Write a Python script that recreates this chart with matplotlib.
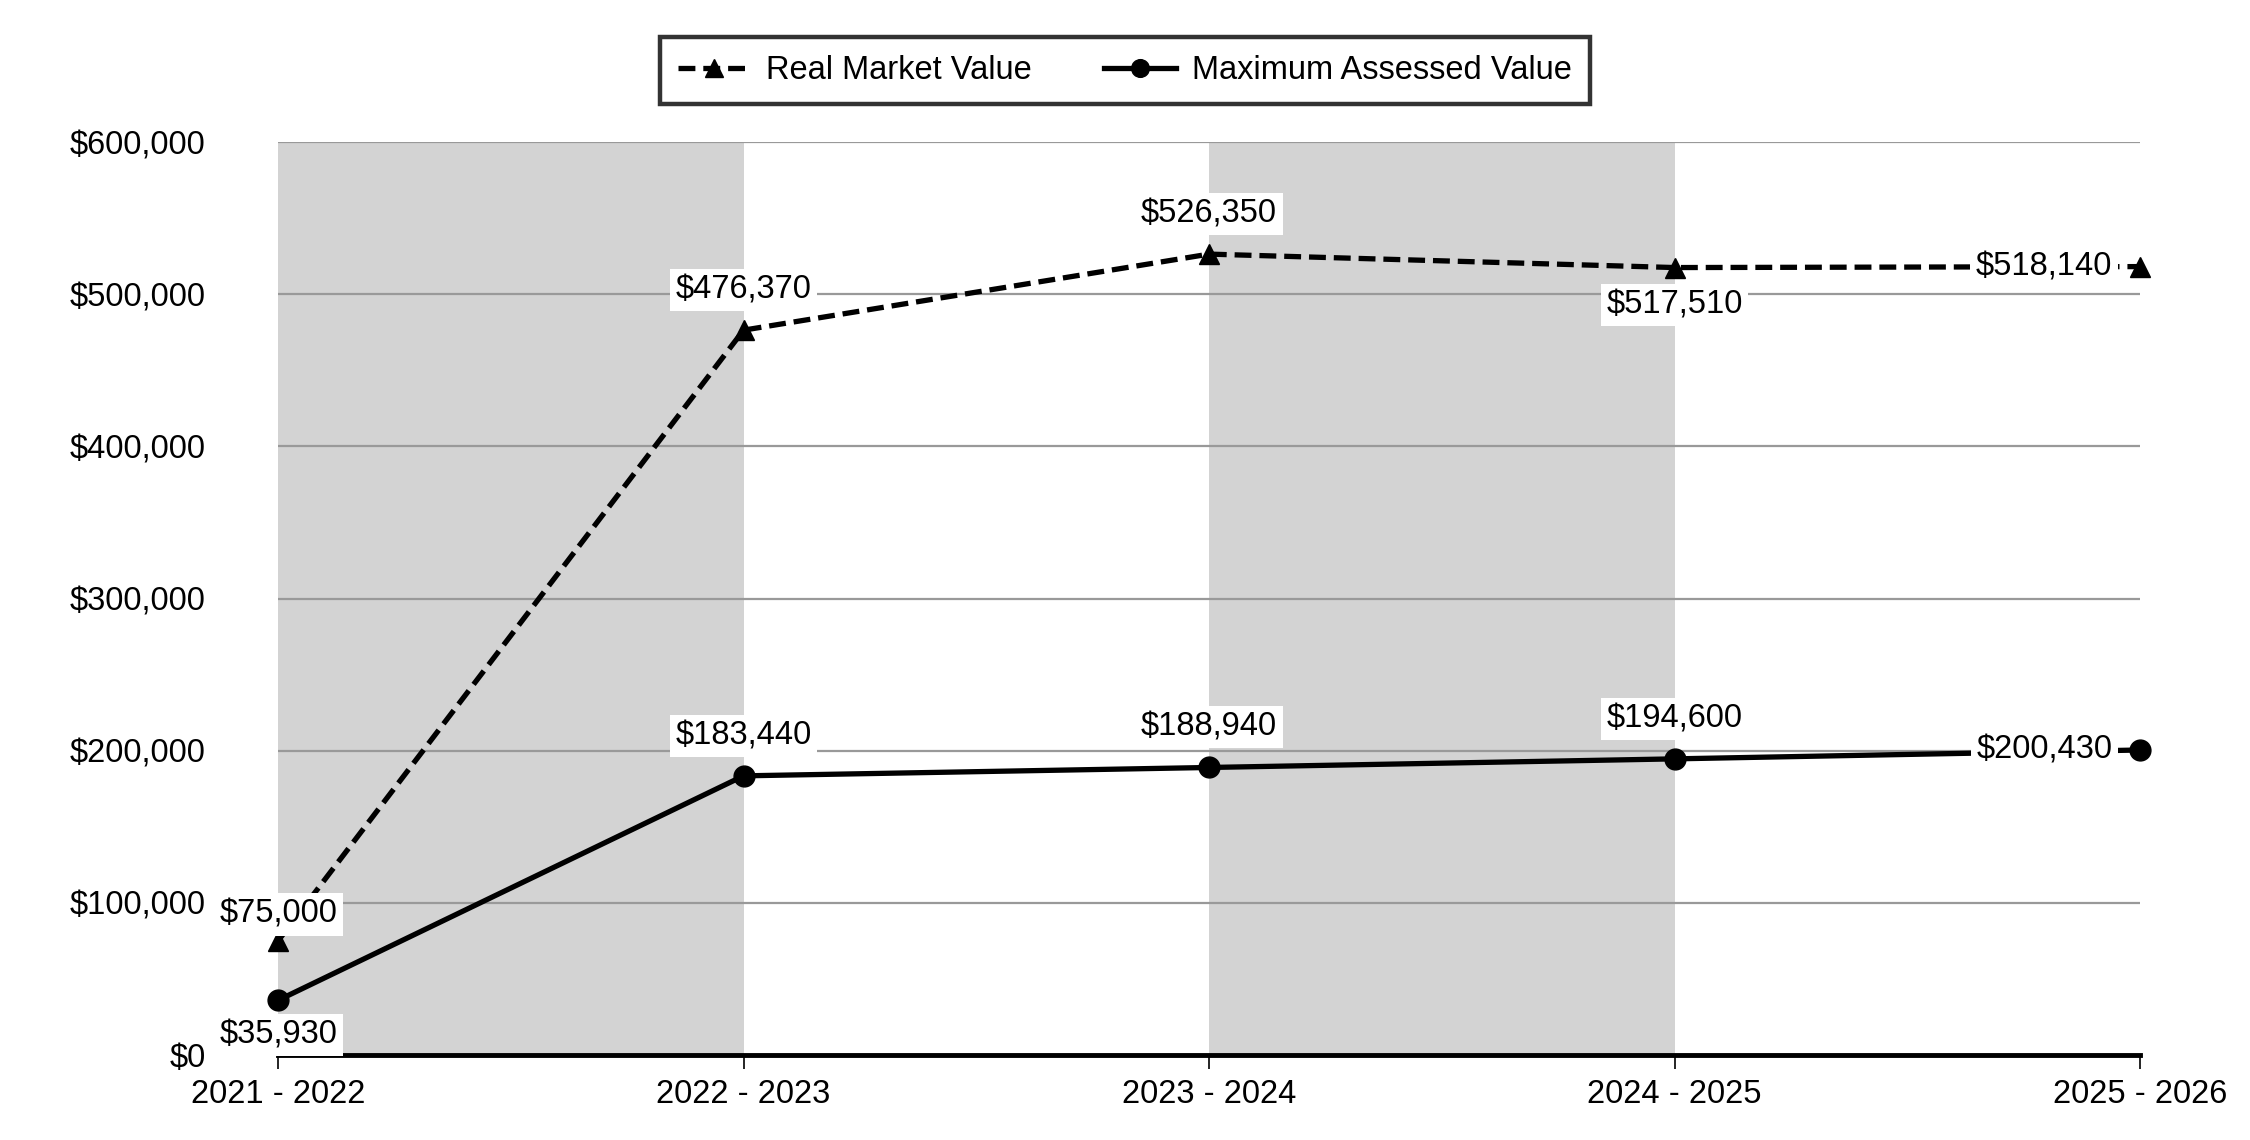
import matplotlib
matplotlib.use("Agg")
import matplotlib.pyplot as plt
from matplotlib.ticker import FuncFormatter

plt.rcParams['font.family'] = ['Liberation Sans', 'DejaVu Sans']

years = ["2021 - 2022", "2022 - 2023", "2023 - 2024", "2024 - 2025", "2025 - 2026"]
real_market = [75000, 476370, 526350, 517510, 518140]
max_assessed = [35930, 183440, 188940, 194600, 200430]
yticks = [0, 100000, 200000, 300000, 400000, 500000, 600000]

# label placement per point: (dx, dy) in points
rmv_off = [(0, 19), (0, 29), (0, 29), (0, -27), (-20, 0)]
mav_off = [(0, -25), (0, 29), (0, 29), (0, 29), (-20, 0)]

FS = 23.5

fig = plt.figure(figsize=(22.5, 11.4), dpi=100)
ax = fig.add_axes([0.1236, 0.0746, 0.8275, 0.8008])

x = list(range(len(years)))
for i in range(0, len(years) - 1, 2):
    ax.axvspan(i, i + 1, color='#d3d3d3', zorder=0, lw=0)

for v in yticks[1:]:
    ax.axhline(v, color='#999999', lw=1.6, zorder=1)

ax.plot(x, real_market, color='black', lw=3.8, ls=(0, (3.2, 1.5)), marker='^',
        markersize=15, zorder=3, label='Real Market Value', clip_on=False)
ax.plot(x, max_assessed, color='black', lw=3.8, marker='o', markersize=15,
        zorder=3, label='Maximum Assessed Value', clip_on=False)

def fmt(v):
    return "${:,.0f}".format(v)

for series, offs in ((real_market, rmv_off), (max_assessed, mav_off)):
    for xi, (v, (dx, dy)) in enumerate(zip(series, offs)):
        ha = 'center' if dx == 0 else 'right'
        ax.annotate(fmt(v), (xi, v), xytext=(dx, dy), textcoords='offset points',
                    ha=ha, va='center', fontsize=FS, zorder=5,
                    bbox=dict(facecolor='white', edgecolor='none', pad=4),
                    annotation_clip=False)

ax.set_xlim(0, len(years) - 1)
ax.set_ylim(0, 600000)
ax.set_xticks(x)
ax.set_xticklabels(years, fontsize=FS)
ax.set_yticks(yticks)
ax.yaxis.set_major_formatter(FuncFormatter(lambda v, p: fmt(v)))
ax.tick_params(axis='y', length=0, pad=52, labelsize=FS)
ax.tick_params(axis='x', length=10, width=1.2, pad=7, color='black', labelsize=FS)
for s in ['top', 'right', 'left']:
    ax.spines[s].set_visible(False)
ax.spines['bottom'].set_linewidth(3.5)
ax.spines['bottom'].set_zorder(4)

leg = fig.legend(loc='center', bbox_to_anchor=(0.5, 0.938), ncol=2, fontsize=FS,
                 frameon=True, fancybox=False, edgecolor='black', handlelength=2.2,
                 columnspacing=2.2, borderpad=0.55, handletextpad=0.5, markerscale=0.85,
                 borderaxespad=0)
leg.get_frame().set_linewidth(3.2)

fig.savefig("out.png", dpi=100)
